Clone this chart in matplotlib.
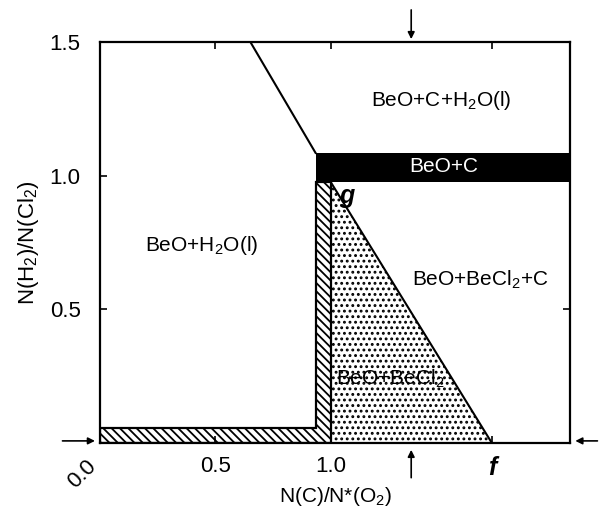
import matplotlib
matplotlib.use("Agg")
import matplotlib.pyplot as plt
from matplotlib.patches import Polygon

plt.rcParams["font.family"] = ["Liberation Sans", "DejaVu Sans"]
plt.rcParams["mathtext.fontset"] = "custom"
plt.rcParams["mathtext.rm"] = "Liberation Sans"
plt.rcParams["mathtext.it"] = "Liberation Sans:italic"
plt.rcParams["hatch.linewidth"] = 1.3

# phase boundaries (x = N(C)/N*(O2), y = N(H2)/N(Cl2))
diag_x = [0.652, 0.935]
diag_y = [1.5, 1.085]
band_x = [0.935, 2.04]
band_y = [0.977, 1.085]
# L-shaped hatched region
lstrip_x = [0.0, 1.0, 1.0, 0.935, 0.935, 0.0]
lstrip_y = [0.0, 0.0, 0.977, 0.977, 0.055, 0.055]
tri_x = [1.0, 1.0, 1.70]
tri_y = [0.977, 0.0, 0.0]
arrow_x = 1.35

xticks = [0.0, 0.5, 1.0, 1.70]
xticklabels = ["0.0", "0.5", "1.0", "f"]
yticks = [0.5, 1.0, 1.5]

labels = [
    (1.48, 1.28, r"BeO+C+H$_2$O(l)", "black"),
    (1.49, 1.035, "BeO+C", "white"),
    (0.44, 0.74, r"BeO+H$_2$O(l)", "black"),
    (1.65, 0.61, r"BeO+BeCl$_2$+C", "black"),
    (1.26, 0.24, r"BeO+BeCl$_2$", "black"),
]

fig = plt.figure(figsize=(5.99, 5.11), dpi=100)
ax = fig.add_axes([0.167, 0.133, 0.785, 0.785])
ax.set_xlim(0, 2.04)
ax.set_ylim(0, 1.5)

# stippled triangle
tri = Polygon(list(zip(tri_x, tri_y)), closed=True, facecolor="white",
              edgecolor="black", hatch="...", linewidth=0)
ax.add_patch(tri)
ax.plot([tri_x[0], tri_x[2]], [tri_y[0], tri_y[2]], color="black", lw=1.5)

# hatched L strip
lstrip = Polygon(list(zip(lstrip_x, lstrip_y)), closed=True,
                 facecolor="white", edgecolor="black", hatch="\\\\\\\\",
                 linewidth=1.6)
ax.add_patch(lstrip)

# black BeO+C band
ax.fill_between(band_x, band_y[0], band_y[1], color="black", linewidth=0)

ax.plot(diag_x, diag_y, color="black", lw=1.5)

for x, y, s, c in labels:
    ax.text(x, y, s, ha="center", va="center", fontsize=15, color=c)
ax.text(1.07, 0.925, "g", ha="center", va="center", fontsize=18,
        style="italic", weight="bold")

ax.set_xticks(xticks)
ax.set_xticklabels(xticklabels)
ax.set_yticks(yticks)
ax.set_yticklabels(["0.5", "1.0", "1.5"])
ax.tick_params(direction="in", length=5, width=1.2, labelsize=16,
               top=True, right=True)
ax.tick_params(axis="x", pad=9)
ax.tick_params(axis="y", pad=14)
tl = ax.get_xticklabels()
tl[0].set_rotation(45)
tl[0].set_ha("right")
tl[0].set_va("top")
tl[3].set_style("italic")
tl[3].set_weight("bold")
tl[3].set_fontsize(18)
for sp in ax.spines.values():
    sp.set_linewidth(1.6)

ax.set_xlabel(r"N(C)/N*(O$_2$)", fontsize=15, labelpad=-5)
ax.set_ylabel(r"N(H$_2$)/N(Cl$_2$)", fontsize=16, labelpad=6)

# arrows marking the sections
ap = dict(arrowstyle="-|>", color="black", lw=1.2, mutation_scale=10)
ax.annotate("", xy=(arrow_x, 1.5), xytext=(arrow_x, 1.63),
            arrowprops=ap, annotation_clip=False)
ax.annotate("", xy=(arrow_x, -0.015), xytext=(arrow_x, -0.14),
            arrowprops=ap, annotation_clip=False)
ax.annotate("", xy=(-0.01, 0.008), xytext=(-0.175, 0.008),
            arrowprops=ap, annotation_clip=False)
ax.annotate("", xy=(2.05, 0.008), xytext=(2.17, 0.008),
            arrowprops=ap, annotation_clip=False)

fig.savefig("out.png", dpi=100)
